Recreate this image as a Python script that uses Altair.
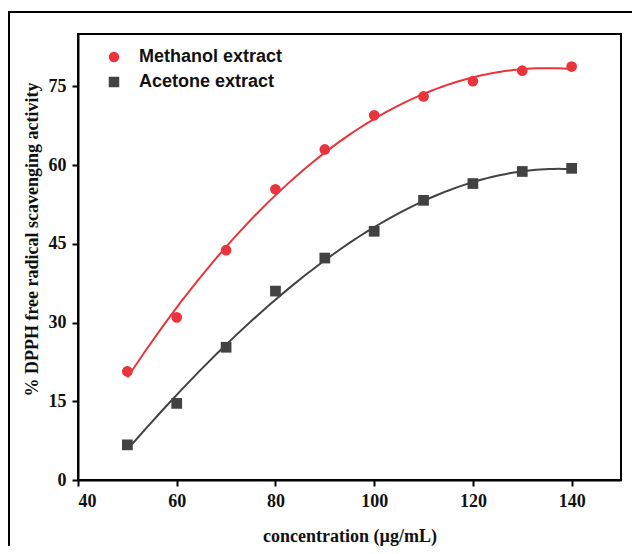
import altair as alt
import pandas as pd

concentration = [50, 60, 70, 80, 90, 100, 110, 120, 130, 140]
methanol = [20.7, 31.0, 43.8, 55.4, 63.0, 69.5, 73.1, 76.0, 78.0, 78.8]
acetone = [6.7, 14.6, 25.3, 36.0, 42.3, 47.4, 53.3, 56.5, 58.8, 59.4]
series_names = ["Methanol extract", "Acetone extract"]
series_colors = ["#e8343a", "#424242"]
series_shapes = ["circle", "square"]
x_ticks = [40, 60, 80, 100, 120, 140]
y_ticks = [0, 15, 30, 45, 60, 75]

rows = []
for c, m, a in zip(concentration, methanol, acetone):
    rows.append({"conc": c, "value": m, "series": series_names[0]})
    rows.append({"conc": c, "value": a, "series": series_names[1]})
df = pd.DataFrame(rows)

xs = alt.Scale(domain=[40, 150], nice=False, zero=False)
ys = alt.Scale(domain=[0, 85], nice=False)
cs = alt.Scale(domain=series_names, range=series_colors)
ss = alt.Scale(domain=series_names, range=series_shapes)

base = alt.Chart(df)


def fit_line(name, color):
    return base.transform_filter(
        alt.datum.series == name
    ).transform_regression(
        "conc", "value", method="poly", order=3, extent=[50, 140]
    ).mark_line(strokeWidth=2, color=color).encode(
        x=alt.X("conc:Q", scale=xs),
        y=alt.Y("value:Q", scale=ys),
    )


lines = [fit_line(n, c) for n, c in zip(series_names, series_colors)]

leg = alt.Legend(
    title=None, orient="none", legendX=27, legendY=14,
    labelFont="Liberation Sans", labelFontWeight="bold", labelFontSize=18,
    labelColor="#111111", symbolSize=110, labelOffset=16, rowPadding=7,
    padding=0, symbolStrokeWidth=0,
)

points = base.mark_point(filled=True, opacity=1, size=115).encode(
    x=alt.X(
        "conc:Q",
        scale=xs,
        axis=alt.Axis(values=x_ticks, title="concentration (µg/mL)", grid=False,
                      labelPadding=6, titlePadding=17),
    ),
    y=alt.Y(
        "value:Q",
        scale=ys,
        axis=alt.Axis(values=y_ticks, title="% DPPH free radical scavenging activity",
                      grid=False, labelPadding=6, titlePadding=7, titleY=205),
    ),
    color=alt.Color("series:N", scale=cs, legend=leg),
    shape=alt.Shape("series:N", scale=ss, legend=leg),
)

frame = alt.Chart(pd.DataFrame({"a": [0]})).mark_rect(
    fillOpacity=0, stroke="black", strokeWidth=2
).encode(
    x=alt.value(-69), x2=alt.value(700), y=alt.value(-22), y2=alt.value(700)
)

chart = alt.layer(frame, *lines, points).properties(
    width=543, height=446,
    autosize=alt.AutoSizeParams(type="none"),
    padding={"left": 70, "top": 26, "right": 11, "bottom": 66},
).configure_view(
    stroke="black", strokeWidth=2
).configure_axis(
    domainColor="black", domainWidth=2, tickColor="black", tickWidth=2, tickSize=6,
    labelFont="Liberation Serif", labelFontWeight="bold", labelFontSize=18,
    labelColor="#111111",
    titleFont="Liberation Serif", titleFontWeight="bold", titleFontSize=18,
    titleColor="#111111",
)

chart.save("out.html", embed_options={"renderer": "svg", "actions": False})
